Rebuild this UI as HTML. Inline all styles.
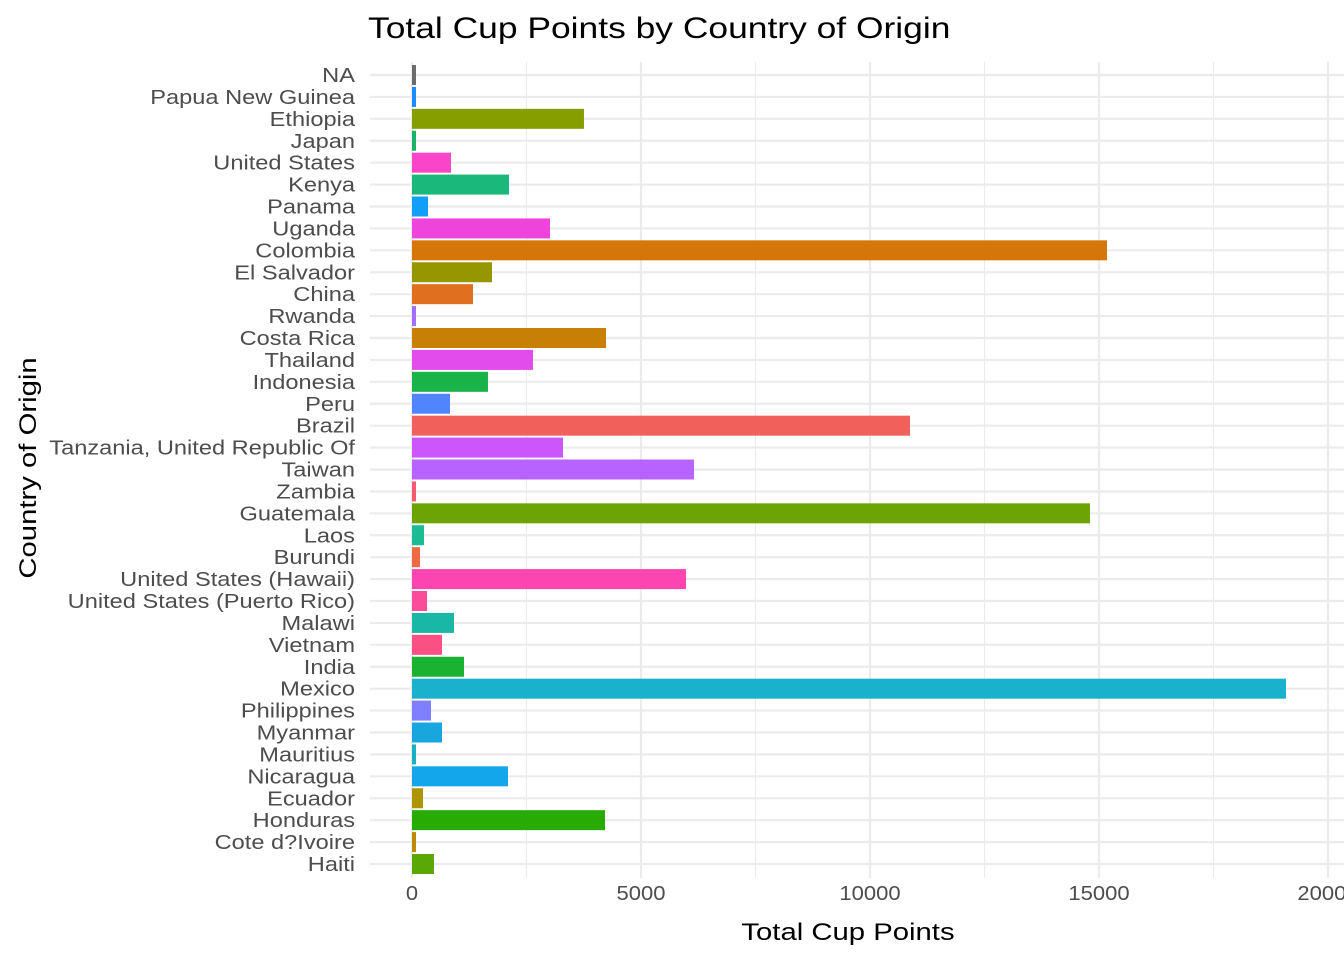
<!DOCTYPE html>
<html><head><meta charset="utf-8"><style>
body{margin:0;background:#fff;font-family:"Liberation Sans",Arial,sans-serif}
svg text{font-family:"Liberation Sans",Arial,sans-serif}
</style></head><body>
<svg id="chart" width="1344" height="960" xmlns="http://www.w3.org/2000/svg">
<text class="st" data-s="1.18" x="368" y="38" font-size="30" fill="#000">Total Cup Points by Country of Origin</text>
<text class="st" data-s="1.22" x="848" y="940" font-size="24" text-anchor="middle" fill="#000">Total Cup Points</text>
<text class="st" data-s="1.22" transform="translate(36,468) rotate(-90)" font-size="24" text-anchor="middle" fill="#000">Country of Origin</text>
<g id="grid"></g><g id="bars"></g><g id="ylabels"></g><g id="xlabels"></g>
</svg>
<script>
const categories=["NA","Papua New Guinea","Ethiopia","Japan","United States","Kenya","Panama","Uganda","Colombia","El Salvador","China","Rwanda","Costa Rica","Thailand","Indonesia","Peru","Brazil","Tanzania, United Republic Of","Taiwan","Zambia","Guatemala","Laos","Burundi","United States (Hawaii)","United States (Puerto Rico)","Malawi","Vietnam","India","Mexico","Philippines","Myanmar","Mauritius","Nicaragua","Ecuador","Honduras","Cote d?Ivoire","Haiti"];
const values=[87,87,3755,87,852,2118,350,3013,15175,1747,1332,87,4236,2642,1659,830,10873,3297,6157,87,14803,262,175,5983,328,917,655,1135,19083,415,655,87,2096,240,4214,87,480];
const colors=["#6b6b6b","#1a8cff","#879e00","#1ab366","#f946c8","#1ab87a","#139ff7","#ee44dc","#d47708","#959600","#e07020","#a36ff9","#c77f05","#e24cec","#19b34a","#5085ff","#f2605c","#cc55fc","#b863ff","#f7576f","#6ca406","#1bbb94","#ee6a42","#fd45b2","#fb4c9c","#19b7a5","#fb5083","#19b231","#19b1cb","#7f7fff","#19a6de","#19b1bf","#13a6ea","#ad9500","#29ab06","#bc8a05","#5aa805"];
const xTicks=[0,5000,10000,15000,20000];
const xTickLabels=["0","5000","10000","15000","20000"];
const NS="http://www.w3.org/2000/svg";
const x=v=>412+v*229/5000;
const y=i=>75+i*(864-75)/36;
const grid=document.getElementById('grid'),bars=document.getElementById('bars'),yl=document.getElementById('ylabels'),xl=document.getElementById('xlabels');
function mk(tag,attrs,parent){const e=document.createElementNS(NS,tag);for(const k in attrs)e.setAttribute(k,attrs[k]);parent.appendChild(e);return e;}
for(let t=2500;t<=20000;t+=2500){
  const major=t%5000===0;
  const l=mk('line',{x1:x(t),x2:x(t),y1:62,y2:878,stroke:'#ebebeb','stroke-width':major?2.2:1.1},grid);
  
  
}
const l0=mk('line',{x1:x(0),x2:x(0),y1:62,y2:878,stroke:'#ebebeb','stroke-width':2.2},grid);


categories.forEach((c,i)=>{
  const l=mk('line',{x1:370,x2:1344,y1:y(i),y2:y(i),stroke:'#ebebeb','stroke-width':2.2},grid);
  
  
  const r=mk('rect',{x:x(0),y:y(i)-10,width:Math.max(0,x(values[i])-x(0)),height:20,fill:colors[i]},bars);
  
  
  const t=mk('text',{x:355,y:y(i)+7,'font-size':20,'text-anchor':'end',fill:'#4d4d4d',class:'st','data-s':'1.18'},yl);
  t.textContent=c;
  
  
});
xTicks.forEach((v,i)=>{
  const t=mk('text',{x:x(v),y:900,'font-size':20,'text-anchor':'middle',fill:'#4d4d4d',class:'st','data-s':'1.1'},xl);
  t.textContent=xTickLabels[i];
  
  
});
document.querySelectorAll('text.st').forEach(t=>{
  const s=parseFloat(t.getAttribute('data-s'));
  const L=t.getComputedTextLength();
  t.setAttribute('textLength',(L*s).toFixed(1));
  t.setAttribute('lengthAdjust','spacingAndGlyphs');
});
</script>
</body></html>
